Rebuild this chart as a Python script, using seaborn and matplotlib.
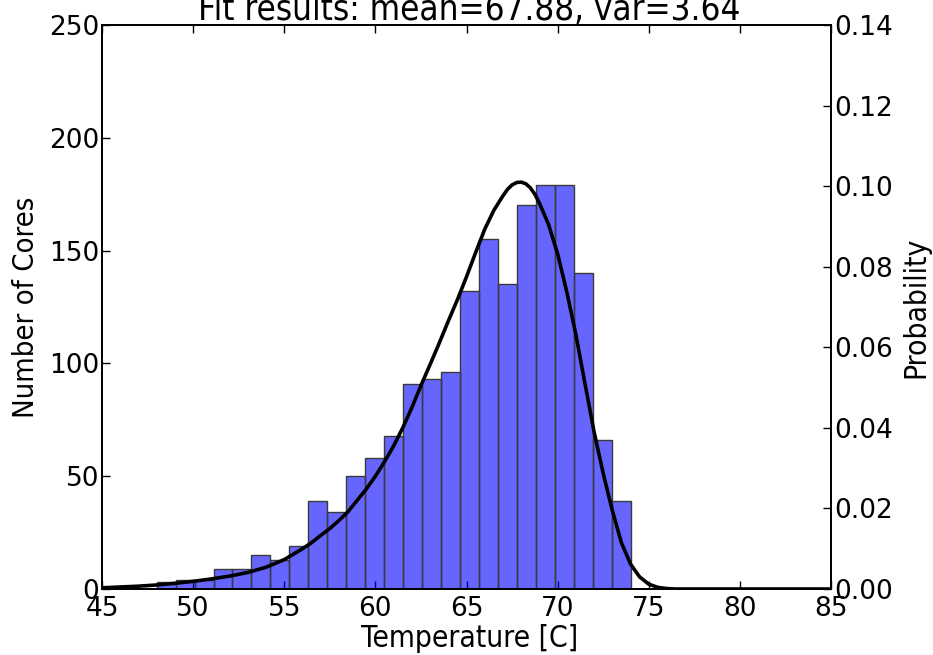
import numpy as np
import pandas as pd
import matplotlib
matplotlib.use("Agg")
import matplotlib.pyplot as plt
from matplotlib.ticker import FormatStrFormatter
import seaborn as sns

# ---- data ----
bin_start = 48.0
bin_stop = 74.0
counts = [3, 4, 4, 9, 9, 15, 13, 19, 39, 34, 50, 58, 68, 91, 93, 96,
          132, 155, 135, 170, 179, 179, 140, 66, 39]

curve_x = [45, 46, 47, 48, 49, 50, 51, 52, 53, 54, 55, 56, 56.5, 57, 57.5,
           58, 58.5, 59, 59.5, 60, 60.5, 61, 61.5, 62, 62.5, 63, 63.5, 64,
           64.5, 65, 65.5, 66, 66.5, 67, 67.25, 67.5, 67.75, 68, 68.25, 68.5,
           68.75, 69, 69.5, 70, 70.5, 71, 71.5, 72, 72.5, 73, 73.5, 74, 74.5,
           75, 75.5, 76, 76.5, 77, 80, 85]
curve_y = [0.0003, 0.0005, 0.0007, 0.0010, 0.0014, 0.0019, 0.0025, 0.0032,
           0.0041, 0.0054, 0.0073, 0.0100, 0.0115, 0.0133, 0.0150, 0.0170,
           0.0192, 0.0220, 0.0248, 0.0280, 0.0316, 0.0355, 0.0400, 0.0450,
           0.0505, 0.0557, 0.0610, 0.0665, 0.0718, 0.0775, 0.0835, 0.0893,
           0.0940, 0.0976, 0.0992, 0.1003, 0.1009, 0.1010, 0.1006, 0.0996,
           0.0980, 0.0958, 0.0905, 0.0832, 0.0738, 0.0632, 0.0510, 0.0390,
           0.0287, 0.0195, 0.0115, 0.0062, 0.0030, 0.0012, 0.0004, 0.0001,
           0.0, 0.0, 0.0, 0.0]

title = "Fit results: mean=67.88, var=3.64"
xlabel = "Temperature [C]"
ylabel_left = "Number of Cores"
ylabel_right = "Probability"

# ---- style ----
sns.set_theme(style="ticks")
plt.rcParams["font.family"] = ["DejaVu Sans"]
plt.rcParams["xtick.direction"] = "in"
plt.rcParams["ytick.direction"] = "in"
plt.rcParams["axes.linewidth"] = 1.3
for key in ("text.color", "axes.labelcolor", "xtick.color", "ytick.color",
            "axes.edgecolor"):
    plt.rcParams[key] = "black"

edges = np.linspace(bin_start, bin_stop, len(counts) + 1)
centers = (edges[:-1] + edges[1:]) / 2
hist_df = pd.DataFrame({"temp": centers, "count": counts})
curve_df = pd.DataFrame({"temp": curve_x, "prob": curve_y})

fig = plt.figure(figsize=(9.33, 6.55), dpi=100)
ax = fig.add_axes([102 / 933, 1 - 589 / 655, 729 / 933, 564 / 655])

sns.histplot(data=hist_df, x="temp", weights="count", bins=[float(e) for e in edges],
             ax=ax, color="blue", alpha=0.6, edgecolor="#3a3a3a", linewidth=1.0)
ax.set_xlim(45, 85)
ax.set_ylim(0, 250)
ax.set_xticks(np.arange(45, 86, 5))
ax.set_yticks(np.arange(0, 251, 50))

ax2 = ax.twinx()
sns.lineplot(data=curve_df, x="temp", y="prob", ax=ax2, color="black",
             linewidth=2.6, solid_joinstyle="round")
ax2.set_ylim(0, 0.14)
ax2.set_yticks(np.arange(0, 0.141, 0.02))
ax2.yaxis.set_major_formatter(FormatStrFormatter("%.2f"))
ax2.set_xlim(45, 85)

for a in (ax, ax2):
    for s in a.spines.values():
        s.set_visible(True)
        s.set_color("black")
        s.set_linewidth(1.3)

ax.tick_params(axis="x", which="major", top=True, bottom=True, length=6,
               width=1, color="black", pad=5, labelsize=19)
ax.tick_params(axis="y", which="major", left=True, right=False, length=6,
               width=1, color="black", pad=2, labelsize=19)
ax2.tick_params(axis="y", which="major", right=True, left=False, length=6,
                width=1, color="black", pad=2, labelsize=19)

ax.set_xlabel(xlabel, fontsize=21.5, fontstretch="condensed")
ax.xaxis.set_label_coords((470 - 102) / 729, (589 - 624) / 564)
ax.set_ylabel(ylabel_left, fontsize=21, fontstretch="condensed")
ax.yaxis.set_label_coords((40 - 102) / 729, 0.5)
ax2.set_ylabel(ylabel_right, fontsize=21.5, fontstretch="condensed")
ax2.yaxis.set_label_coords((901 - 102) / 729, 0.5)

fig.text(469 / 933, 1 - 20 / 655, title, ha="center", va="baseline",
         fontsize=25, fontstretch="condensed")

fig.savefig("out.png", dpi=100)
